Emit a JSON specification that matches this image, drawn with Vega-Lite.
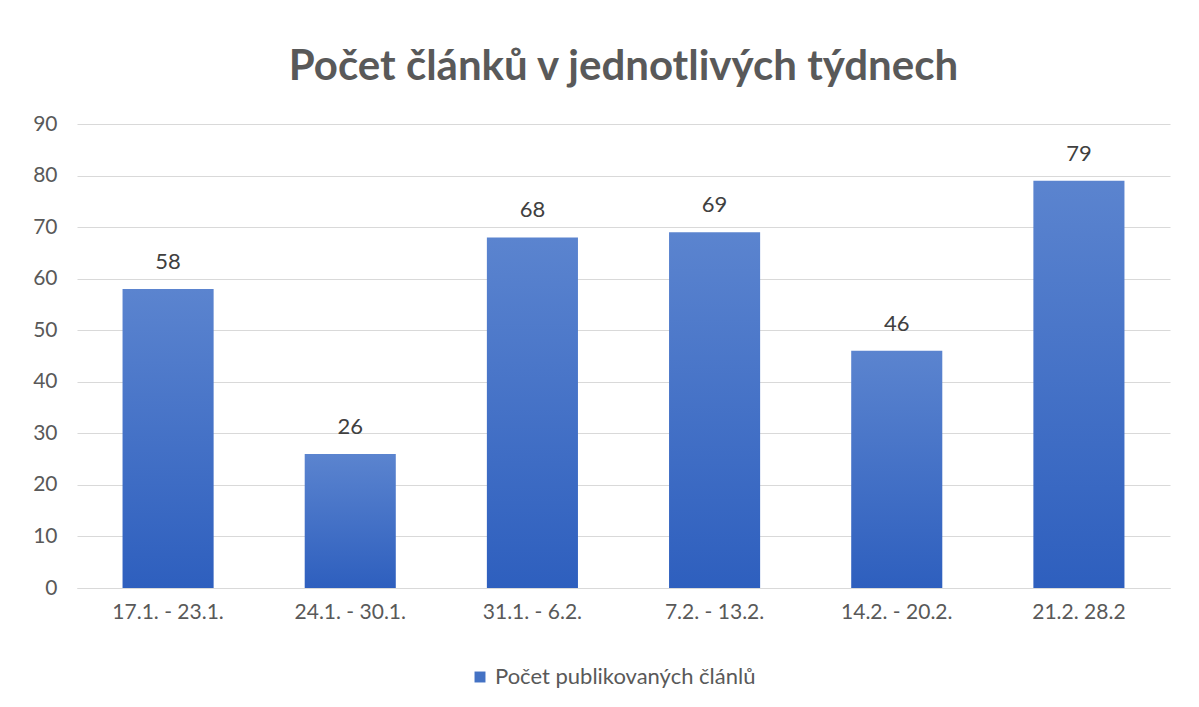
{
  "$schema": "https://vega.github.io/schema/vega-lite/v6.json",
  "width": 1093,
  "height": 464,
  "padding": {"left": 32, "top": 46, "right": 29, "bottom": 5},
  "background": "white",
  "title": {
    "text": "Počet článků v jednotlivých týdnech",
    "font": "Lato",
    "fontSize": 42,
    "fontWeight": "bold",
    "color": "#595959",
    "anchor": "middle",
    "offset": 24
  },
  "data": {
    "values": [
      {"week": "17.1. - 23.1.", "count": 58, "series": "Počet publikovaných článlů"},
      {"week": "24.1. - 30.1.", "count": 26, "series": "Počet publikovaných článlů"},
      {"week": "31.1. - 6.2.", "count": 68, "series": "Počet publikovaných článlů"},
      {"week": "7.2. - 13.2.", "count": 69, "series": "Počet publikovaných článlů"},
      {"week": "14.2. - 20.2.", "count": 46, "series": "Počet publikovaných článlů"},
      {"week": "21.2.  28.2", "count": 79, "series": "Počet publikovaných článlů"}
    ]
  },
  "encoding": {
    "x": {
      "field": "week",
      "type": "nominal",
      "sort": null,
      "scale": {"paddingInner": 0.5, "paddingOuter": 0.25},
      "axis": {
        "title": null,
        "labelAngle": 0,
        "labelFont": "Lato",
        "labelFontSize": 21,
        "labelColor": "#595959",
        "labelPadding": 13,
        "ticks": false,
        "domainColor": "#d9d9d9",
        "domainWidth": 1
      }
    },
    "y": {
      "field": "count",
      "type": "quantitative",
      "scale": {"domain": [0, 90]},
      "axis": {
        "title": null,
        "values": [0, 10, 20, 30, 40, 50, 60, 70, 80, 90],
        "labelFont": "Lato",
        "labelFontSize": 21,
        "labelColor": "#595959",
        "labelPadding": 20,
        "ticks": false,
        "domain": false,
        "gridColor": "#d9d9d9",
        "gridWidth": 1
      }
    }
  },
  "layer": [
    {
      "mark": {
        "type": "bar",
        "color": {
          "gradient": "linear",
          "x1": 0, "y1": 0, "x2": 0, "y2": 1,
          "stops": [
            {"offset": 0, "color": "#5b84cf"},
            {"offset": 1, "color": "#2e5fbe"}
          ]
        }
      }
    },
    {
      "mark": {"type": "text", "dy": -27, "font": "Lato", "fontSize": 22, "color": "#404040"},
      "encoding": {"text": {"field": "count", "type": "quantitative"}}
    },
    {
      "mark": {"type": "point", "shape": "square", "opacity": 0, "filled": true},
      "encoding": {
        "fill": {
          "field": "series",
          "type": "nominal",
          "scale": {"range": ["#4472c4"]},
          "legend": {
            "title": null,
            "orient": "none",
            "legendX": 392,
            "legendY": 542,
            "direction": "horizontal",
            "symbolType": "square",
            "symbolSize": 120,
            "symbolOpacity": 1,
            "labelFont": "Lato",
            "labelFontSize": 22,
            "labelLimit": 0,
            "labelColor": "#595959"
          }
        }
      }
    }
  ],
  "config": {
    "view": {"stroke": null}
  }
}
